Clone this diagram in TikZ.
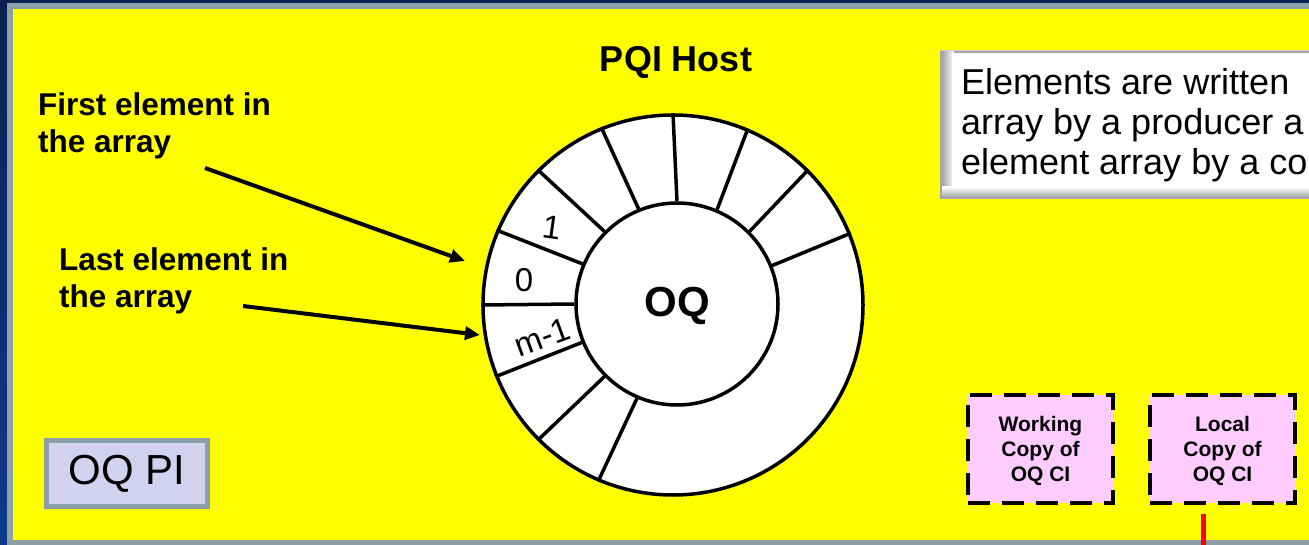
\documentclass[tikz,border=0pt]{standalone}
\usepackage{fontspec}
\setmainfont{Liberation Sans}
\usetikzlibrary{arrows.meta,calc}
\definecolor{navytop}{HTML}{0B2152}
\definecolor{navybot}{HTML}{10398C}
\definecolor{framegrey}{HTML}{8BA0A6}
\definecolor{pinkfill}{HTML}{FFCCFF}
\definecolor{lavender}{HTML}{D2D2F0}
\definecolor{bgyellow}{HTML}{FFFF00}
\definecolor{linered}{HTML}{FF0000}
\definecolor{pureblack}{HTML}{000000}
\definecolor{purewhite}{HTML}{FFFFFF}
\definecolor{bevelgrey}{HTML}{A6A6A6}
\newcommand{\boxlines}[1]{\raisebox{-7.5pt}[0pt][0pt]{\begin{tabular}{@{}c@{}}#1\end{tabular}}}
\tikzset{
  ring/.style={circle, draw=pureblack, fill=purewhite, line width=3.5pt, inner sep=0pt},
  divider/.style={line width=3.5pt, draw=pureblack},
  seglabel/.style={font=\fontsize{33}{40}\selectfont, inner sep=0pt},
  note/.style={font=\fontsize{31.5}{37}\selectfont\bfseries, align=left, inner sep=0pt, anchor=north west},
  pointer/.style={line width=4pt, draw=pureblack, -{Triangle[length=15pt,width=13pt]}},
  copybox/.style={draw=pureblack, fill=pinkfill, line width=4pt, dash pattern=on 22pt off 12pt,
    minimum width=145pt, minimum height=108pt, inner sep=0pt,
    font=\fontsize{21}{25}\selectfont\bfseries},
  pibox/.style={draw=framegrey, fill=lavender, line width=5pt, minimum width=161pt,
    minimum height=66pt, inner sep=0pt, font=\fontsize{42}{50}\selectfont},
}
\begin{document}
\begin{tikzpicture}[x=1pt,y=-1pt]
\useasboundingbox (0,0) rectangle (1309,545);
\begin{scope}
\clip (0,0) rectangle (1309,545);
% background and frame
\shade[top color=navytop, bottom color=navybot] (0,0) rectangle (1309,545);
\fill[framegrey] (7,3) rectangle (1330,560);
\fill[bgyellow] (12.5,9) rectangle (1330,540);

% description box with bevel
\fill[bevelgrey] (940,50) rectangle (1330,199);
\shade[left color=bevelgrey, right color=purewhite] (942,52) rectangle (954,197);
\shade[top color=purewhite, bottom color=bevelgrey] (942,187) rectangle (1330,197);
\fill[purewhite] (952,53) rectangle (1330,188);
\draw[gray!40, line width=1pt] (940,50.5) -- (1330,50.5);
\node[font=\fontsize{36}{40}\selectfont, align=left, inner sep=0pt, anchor=north west]
  (desc) at (961,68) {Elements are written\\array by a producer a\\element array by a co};

% ring buffer
\node[ring, minimum size=380pt] (outer) at (673,305) {};
\node[ring, minimum size=202pt] (inner) at (677,304) {};
\foreach \a in {22.5,45,67.5,90,112.5,135,157.5,180,202.5,225,247.5}
  \draw[divider] (inner.\a) -- (outer.\a);
\node[font=\fontsize{42}{50}\selectfont\bfseries, inner sep=0pt] (oq) at (677,306) {OQ};
\node[seglabel, rotate=-8] (l1) at (552,228) {1};
\node[seglabel] (l0) at (524,280) {0};
\node[seglabel, rotate=20] (lm) at (542,337) {m-1};

% title
\node[font=\fontsize{36}{42}\selectfont\bfseries, anchor=base, inner sep=0pt] (host) at (676,72) {PQI Host};

% annotations
\node[note] (first) at (38,92) {First element in\\the array};
\node[note] (last) at (59,247) {Last element in\\the array};
\coordinate (a1s) at (205,168);
\coordinate (a1e) at (465,261);
\coordinate (a2s) at (243,306);
\coordinate (a2e) at (480,335);
\draw[pointer] (a1s) -- (a1e);
\draw[pointer] (a2s) -- (a2e);

% boxes
\node[pibox] (pi) at (127,473.5) {OQ PI};
\node[copybox] (work) at (1040.5,449) {\boxlines{Working\\Copy of\\OQ CI}};
\node[copybox] (local) at (1222.5,449) {\boxlines{Local\\Copy of\\OQ CI}};
\coordinate (rs) at (1203,514);
\coordinate (re) at (1203,550);
\draw[linered, line width=5pt] (rs) -- (re);
\end{scope}
\end{tikzpicture}
\end{document}
